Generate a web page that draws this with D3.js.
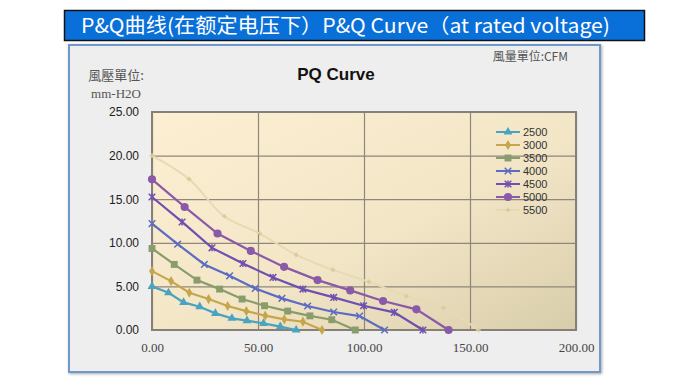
<!DOCTYPE html>
<html lang="zh">
<head>
<meta charset="UTF-8">
<title>PQ Curve</title>
<script src="https://d3js.org/d3.v7.min.js"></script>
<style>
    body { margin: 0; background: #fff; }
    svg { display: block; }
</style>
</head>
<body>
<div id="chart"></div>
<script>
// fan speeds (rpm) and their P&Q points
const speeds = ["2500", "3000", "3500", "4000", "4500", "5000", "5500"];
const flow2500 = [0, 7.8, 14.9, 22.5, 29.9, 37.7, 44.8, 52.6, 60.5, 68];
const pres2500 = [5.0, 4.27, 3.17, 2.67, 1.91, 1.34, 1.07, 0.76, 0.38, 0];
const flow3000 = [0, 9.0, 17.6, 26.7, 35.7, 44.5, 53.4, 62.4, 71.2, 80.2];
const pres3000 = [6.75, 5.61, 4.27, 3.55, 2.75, 2.17, 1.64, 1.22, 0.95, 0];
const flow3500 = [0, 10.5, 21.2, 31.9, 42.5, 53.1, 64.0, 74.5, 84.8, 95.9];
const pres3500 = [9.35, 7.52, 5.72, 4.69, 3.55, 2.78, 2.17, 1.62, 1.18, 0];
const flow4000 = [0, 12.1, 24.7, 36.6, 48.7, 61.3, 73.4, 85.7, 97.9, 109.7];
const pres4000 = [12.2, 9.84, 7.52, 6.21, 4.77, 3.63, 2.75, 2.06, 1.60, 0];
const flow4500 = [0, 14.2, 28.3, 42.9, 57.1, 71.2, 85.7, 99.8, 114.3, 127.8];
const pres4500 = [15.25, 12.39, 9.42, 7.63, 6.03, 4.69, 3.74, 2.78, 2.02, 0];
const flow5000 = [0, 15.4, 30.9, 46.6, 62.3, 78.1, 93.5, 109, 124.7, 139.9];
const pres5000 = [17.28, 14.11, 11.06, 9.07, 7.24, 5.72, 4.54, 3.32, 2.37, 0];
const flow5500 = [0, 17.5, 34.1, 50.8, 68.0, 85.3, 102.3, 120, 137.5, 154];
const pres5500 = [20.0, 17.3, 13.04, 11.06, 8.62, 6.9, 5.53, 3.89, 2.55, 0];

const xTicks = [0, 50, 100, 150, 200];
const yTicks = [0, 5, 10, 15, 20, 25];

const flows = [flow2500, flow3000, flow3500, flow4000, flow4500, flow5000, flow5500];
const pressures = [pres2500, pres3000, pres3500, pres4000, pres4500, pres5000, pres5500];
const colors = ["#4aa3c0", "#c6a64c", "#889c6c", "#5b6cc2", "#6f4fb0", "#8a5aa8", "#e6dab4"];
const symbols = ["triangle", "diamond", "square", "x", "star", "circle", "plus"];

const series = speeds.map((s, i) => ({
    name: s,
    color: colors[i],
    symbol: symbols[i],
    values: flows[i].map((f, j) => ({ q: f, p: pressures[i][j] }))
}));

const W = 680, H = 380;
const plot = { left: 152, right: 576, top: 112, bottom: 330 };

const svg = d3.select("#chart").append("svg")
    .attr("width", W)
    .attr("height", H);

const defs = svg.append("defs");
const grad = defs.append("linearGradient")
    .attr("id", "plotBg")
    .attr("x1", "0%").attr("y1", "0%")
    .attr("x2", "100%").attr("y2", "100%");
grad.append("stop").attr("offset", "0%").attr("stop-color", "#fdefd2");
grad.append("stop").attr("offset", "55%").attr("stop-color", "#f3e6c7");
grad.append("stop").attr("offset", "100%").attr("stop-color", "#d8cdab");

const shadow = defs.append("filter").attr("id", "shadow")
    .attr("x", "-5%").attr("y", "-5%").attr("width", "110%").attr("height", "110%");
shadow.append("feDropShadow")
    .attr("dx", 1).attr("dy", 1).attr("stdDeviation", 1.5)
    .attr("flood-color", "#000").attr("flood-opacity", 0.35);

// header bar
svg.append("rect")
    .attr("x", 64.5).attr("y", 10.5)
    .attr("width", 580).attr("height", 30)
    .attr("fill", "#0a70d9")
    .attr("stroke", "#111")
    .attr("stroke-width", 1.5);
svg.append("text")
    .attr("x", 81).attr("y", 33)
    .attr("fill", "#fff")
    .attr("textLength", 529)
    .attr("lengthAdjust", "spacingAndGlyphs")
    .style("font-family", "'Noto Sans CJK SC', 'Noto Sans', sans-serif")
    .style("font-size", "20px")
    .text("P&Q曲线(在额定电压下）P&Q Curve（at rated voltage)");

// chart frame
svg.append("rect")
    .attr("x", 69).attr("y", 45)
    .attr("width", 531).attr("height", 327)
    .attr("fill", "#eeeeee")
    .attr("stroke", "#7098c8")
    .attr("stroke-width", 2)
    .attr("filter", "url(#shadow)");

const x = d3.scaleLinear().domain([0, 200]).range([plot.left, plot.right]);
const y = d3.scaleLinear().domain([0, 25]).range([plot.bottom, plot.top]);

svg.append("rect")
    .attr("x", plot.left).attr("y", plot.top)
    .attr("width", plot.right - plot.left)
    .attr("height", plot.bottom - plot.top)
    .attr("fill", "url(#plotBg)");

// gridlines
svg.append("g")
    .attr("transform", `translate(0,${plot.bottom})`)
    .call(d3.axisBottom(x).tickValues(xTicks).tickSize(-(plot.bottom - plot.top)).tickFormat(""))
    .call(g => g.select(".domain").remove())
    .call(g => g.selectAll("line").attr("stroke", "#8e877a").attr("stroke-width", 1.2));
svg.append("g")
    .attr("transform", `translate(${plot.left},0)`)
    .call(d3.axisLeft(y).tickValues(yTicks).tickSize(-(plot.right - plot.left)).tickFormat(""))
    .call(g => g.select(".domain").remove())
    .call(g => g.selectAll("line").attr("stroke", "#8e877a").attr("stroke-width", 1.2));

svg.append("rect")
    .attr("x", plot.left).attr("y", plot.top)
    .attr("width", plot.right - plot.left)
    .attr("height", plot.bottom - plot.top)
    .attr("fill", "none")
    .attr("stroke", "#858078")
    .attr("stroke-width", 2);

// tick labels
svg.append("g")
    .attr("transform", `translate(${plot.left - 10},0)`)
    .call(d3.axisLeft(y).tickValues(yTicks).tickSize(0).tickFormat(d3.format(".2f")))
    .call(g => g.select(".domain").remove())
    .call(g => g.selectAll("text")
        .attr("fill", "#222")
        .style("font-family", "'Liberation Sans', Arial, sans-serif")
        .style("font-size", "12px"));
svg.append("g")
    .attr("transform", `translate(0,${plot.bottom + 10})`)
    .call(d3.axisBottom(x).tickValues(xTicks).tickSize(0).tickFormat(d3.format(".2f")))
    .call(g => g.select(".domain").remove())
    .call(g => g.selectAll("text")
        .attr("fill", "#444")
        .style("font-family", "'Liberation Serif', 'Times New Roman', serif")
        .style("font-size", "13px"));

// titles
svg.append("text")
    .attr("x", 336).attr("y", 80)
    .attr("text-anchor", "middle")
    .attr("fill", "#111")
    .style("font-family", "'Liberation Sans', Arial, sans-serif")
    .style("font-weight", "bold")
    .style("font-size", "17px")
    .text("PQ Curve");
svg.append("text")
    .attr("x", 116).attr("y", 80)
    .attr("text-anchor", "middle")
    .attr("fill", "#555")
    .style("font-family", "'Noto Sans CJK TC', serif")
    .style("font-size", "13px")
    .text("風壓單位:");
svg.append("text")
    .attr("x", 116).attr("y", 98)
    .attr("text-anchor", "middle")
    .attr("fill", "#555")
    .style("font-family", "'Liberation Serif', serif")
    .style("font-size", "13px")
    .text("mm-H2O");
svg.append("text")
    .attr("x", 568).attr("y", 61)
    .attr("text-anchor", "end")
    .attr("fill", "#555")
    .style("font-family", "'Noto Sans CJK TC', 'Liberation Serif', serif")
    .style("font-size", "12px")
    .text("風量單位:CFM");

function drawMarker(g, symbol, color) {
    if (symbol === "x" || symbol === "star") {
        g.append("path")
            .attr("d", d3.symbol().type(d3.symbolX).size(30)())
            .attr("fill", "none")
            .attr("stroke", color)
            .attr("stroke-width", 1.5);
        if (symbol === "star") {
            g.append("line").attr("x1", 0).attr("x2", 0).attr("y1", -3.5).attr("y2", 3.5)
                .attr("stroke", color).attr("stroke-width", 1.5);
        }
        return;
    }
    if (symbol === "plus") {
        g.append("path")
            .attr("d", d3.symbol().type(d3.symbolCross).size(12)())
            .attr("fill", "#d8ca9c");
        return;
    }
    const types = { triangle: d3.symbolTriangle, diamond: d3.symbolDiamond, square: d3.symbolSquare, circle: d3.symbolCircle };
    const sizes = { triangle: 34, diamond: 30, square: 48, circle: 52 };
    g.append("path")
        .attr("d", d3.symbol().type(types[symbol]).size(sizes[symbol])())
        .attr("fill", color);
}

const line = d3.line().x(d => x(d.q)).y(d => y(d.p));
const smooth = d3.line().x(d => x(d.q)).y(d => y(d.p)).curve(d3.curveCatmullRom);

const lines = svg.append("g");
series.forEach(s => {
    lines.append("path")
        .datum(s.values)
        .attr("d", s.name === "5500" ? smooth : line)
        .attr("fill", "none")
        .attr("stroke", s.color)
        .attr("stroke-width", s.name === "5500" ? 2 : 2.2);
    lines.selectAll(null)
        .data(s.values)
        .enter().append("g")
        .attr("transform", d => `translate(${x(d.q)},${y(d.p)})`)
        .each(function() { drawMarker(d3.select(this), s.symbol, s.color); });
});

// legend
const legend = svg.append("g").attr("transform", "translate(496,132)");
series.forEach((s, i) => {
    const row = legend.append("g").attr("transform", `translate(0,${i * 13})`);
    row.append("line")
        .attr("x1", 0).attr("x2", 24)
        .attr("stroke", s.color).attr("stroke-width", 2);
    const m = row.append("g").attr("transform", "translate(12,0)");
    drawMarker(m, s.symbol, s.color);
    row.append("text")
        .attr("x", 27).attr("y", 4)
        .attr("fill", "#333")
        .style("font-family", "'Liberation Sans', Arial, sans-serif")
        .style("font-size", "11px")
        .text(s.name);
});
</script>
</body>
</html>
